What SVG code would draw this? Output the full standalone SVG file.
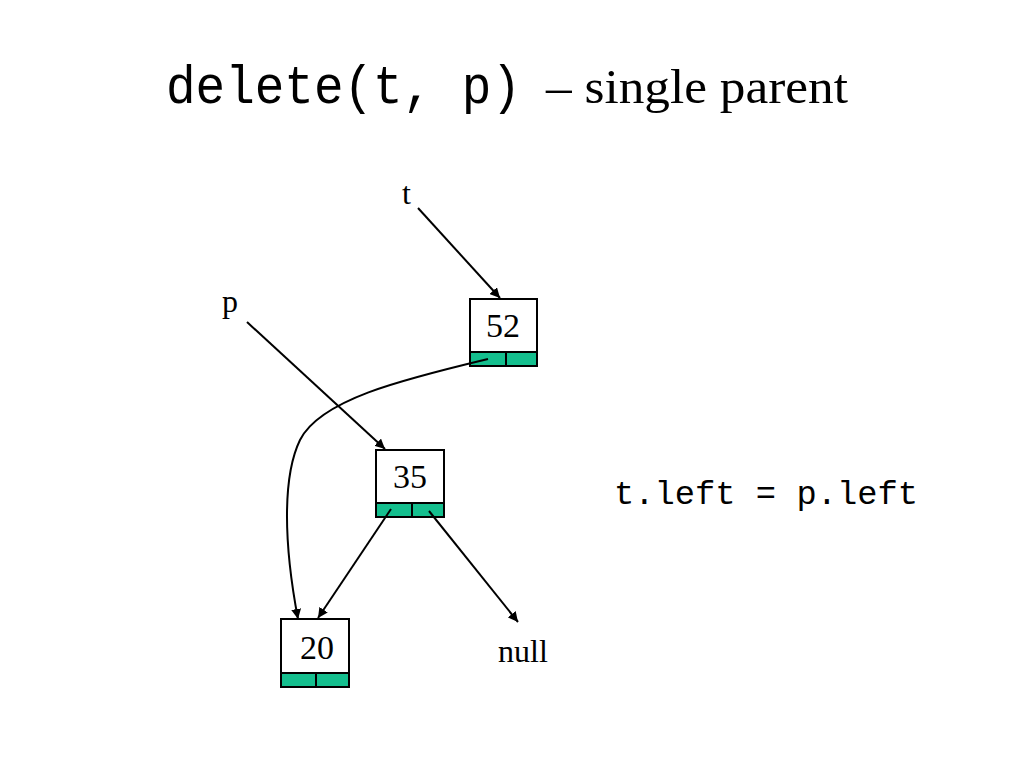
<svg xmlns="http://www.w3.org/2000/svg" width="1024" height="768" viewBox="0 0 1024 768">
<defs>
<style>
.box{fill:#ffffff;stroke:#000;stroke-width:2}
.bar{fill:#14BF8E;stroke:#000;stroke-width:2}
.num{font-family:"Liberation Serif",serif;font-size:34px;fill:#000;text-anchor:middle}
.lbl{font-family:"Liberation Serif",serif;font-size:32px;fill:#000}
.mono{font-family:"Liberation Mono",monospace;fill:#000}
.edge{fill:none;stroke:#000;stroke-width:2;marker-end:url(#ah)}
</style>
<marker id="ah" viewBox="0 0 10 10" refX="10" refY="5" markerWidth="5" markerHeight="5" orient="auto" markerUnits="strokeWidth">
<path d="M0,0 L10,5 L0,10 z" fill="#000"/>
</marker>
</defs>
<rect width="1024" height="768" fill="#fff"/>
<g id="title">
<text class="mono" x="166" y="103" font-size="54" textLength="355" lengthAdjust="spacingAndGlyphs">delete(t, p)</text>
<text x="546" y="103" font-family="'Liberation Serif',serif" font-size="48" textLength="302" lengthAdjust="spacingAndGlyphs">– single parent</text>
</g>
<g id="node52">
<rect class="box" x="470" y="299" width="67" height="53"/>
<rect class="bar" x="470" y="352" width="36" height="14"/>
<rect class="bar" x="506" y="352" width="31" height="14"/>
<text class="num" x="503" y="337">52</text>
</g>
<g id="node35">
<rect class="box" x="376" y="450" width="68" height="53"/>
<rect class="bar" x="376" y="503" width="36" height="14"/>
<rect class="bar" x="412" y="503" width="32" height="14"/>
<text class="num" x="410" y="488">35</text>
</g>
<g id="node20">
<rect class="box" x="281" y="619" width="68" height="54"/>
<rect class="bar" x="281" y="673" width="35" height="14"/>
<rect class="bar" x="316" y="673" width="33" height="14"/>
<text class="num" x="317" y="659">20</text>
</g>
<g id="labels">
<text class="lbl" x="402" y="204">t</text>
<text class="lbl" x="222" y="312">p</text>
<text class="lbl" x="498" y="662" font-size="33">null</text>
<text class="mono" x="614" y="504" font-size="34" textLength="304" lengthAdjust="spacingAndGlyphs">t.left = p.left</text>
</g>
<g id="connectors">
<path class="edge" d="M418,208 L500,298"/>
<path class="edge" d="M247,322 L385,449"/>
<path class="edge" d="M488,359 C400,380 320,400 300,440 C283,475 283,540 298,619"/>
<path class="edge" d="M391,509 L318,618"/>
<path class="edge" d="M429,511 L518,622"/>
</g>
</svg>
